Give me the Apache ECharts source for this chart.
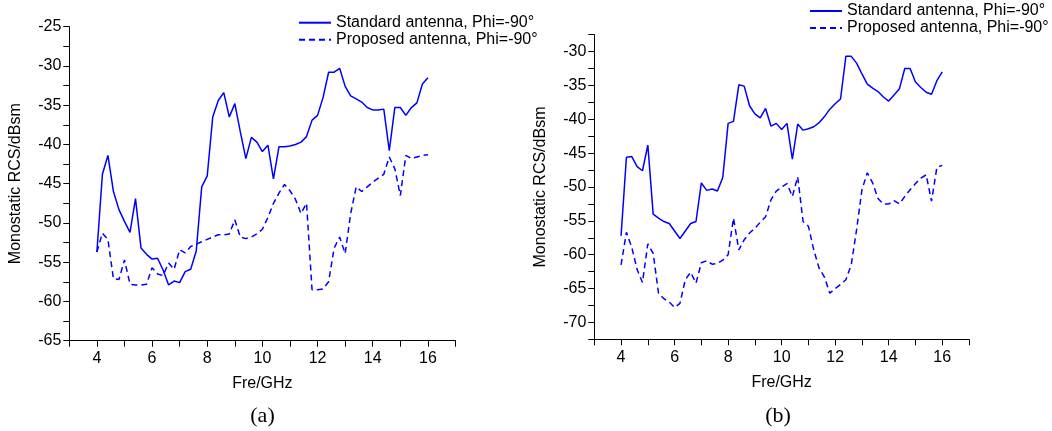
<!DOCTYPE html>
<html>
<head>
<meta charset="utf-8">
<script src="https://cdn.jsdelivr.net/npm/echarts@6/dist/echarts.min.js"></script>
<style>
  html, body { margin: 0; padding: 0; background: #ffffff; }
  #chart { width: 1052px; height: 431px; }
</style>
</head>
<body>
<div id="chart"></div>
<script>
// Sweep frequencies (GHz)
const freq = [
  4.0, 4.2, 4.4, 4.6, 4.8, 5.0, 5.2, 5.4, 5.6, 5.8,
  6.0, 6.2, 6.4, 6.6, 6.8, 7.0, 7.2, 7.4, 7.6, 7.8,
  8.0, 8.2, 8.4, 8.6, 8.8, 9.0, 9.2, 9.4, 9.6, 9.8,
  10.0, 10.2, 10.4, 10.6, 10.8, 11.0, 11.2, 11.4, 11.6, 11.8,
  12.0, 12.2, 12.4, 12.6, 12.8, 13.0, 13.2, 13.4, 13.6, 13.8,
  14.0, 14.2, 14.4, 14.6, 14.8, 15.0, 15.2, 15.4, 15.6, 15.8,
  16.0
];

// Panel (a): monostatic RCS in dBsm
const standardA = [
  -53.7, -43.8, -41.4, -46.0, -48.3, -49.8, -51.2, -46.9, -53.2, -54.0,
  -54.6, -54.5, -56.0, -57.9, -57.4, -57.6, -56.2, -55.9, -53.6, -45.4,
  -44.0, -36.5, -34.4, -33.4, -36.5, -34.8, -38.4, -41.8, -39.1, -39.7,
  -40.9, -40.1, -44.4, -40.3, -40.3, -40.2, -40.0, -39.7, -39.0, -36.9,
  -36.3, -34.0, -30.8, -30.8, -30.3, -32.6, -33.8, -34.2, -34.6, -35.3,
  -35.6, -35.6, -35.5, -40.8, -35.3, -35.3, -36.3, -35.3, -34.7, -32.3,
  -31.5
];
const proposedA = [
  -53.7, -51.3, -52.1, -57.1, -57.2, -54.7, -57.8, -57.9, -57.9, -57.8,
  -55.7, -56.5, -56.7, -55.1, -55.9, -53.4, -53.8, -53.0, -52.7, -52.4,
  -52.1, -51.8, -51.5, -51.5, -51.4, -49.6, -51.8, -52.0, -51.8, -51.4,
  -50.8, -49.3, -47.5, -46.2, -45.1, -45.9, -47.0, -48.8, -47.5, -58.5,
  -58.5, -58.4, -57.5, -53.2, -51.8, -53.9, -48.8, -45.4, -46.0, -45.4,
  -44.8, -44.3, -43.8, -41.6, -43.1, -46.5, -41.4, -41.8, -41.6, -41.4,
  -41.3
];

// Panel (b): monostatic RCS in dBsm
const standardB = [
  -57.2, -45.6, -45.5, -47.0, -47.6, -43.8, -54.0, -54.6, -55.1, -55.4,
  -56.5, -57.6, -56.5, -55.4, -55.1, -49.4, -50.5, -50.3, -50.6, -48.6,
  -40.6, -40.3, -34.9, -35.1, -38.0, -39.2, -39.8, -38.4, -41.0, -40.6,
  -41.5, -40.6, -45.9, -40.7, -41.6, -41.4, -41.1, -40.5, -39.6, -38.5,
  -37.7, -37.0, -30.7, -30.7, -31.7, -33.3, -34.8, -35.4, -35.9, -36.7,
  -37.3, -36.4, -35.5, -32.5, -32.5, -34.5, -35.3, -36.0, -36.3, -34.3,
  -33.0
];
const proposedB = [
  -61.5, -56.7, -58.9, -62.2, -64.1, -58.4, -59.8, -65.7, -66.5, -67.0,
  -67.8, -67.2, -63.7, -62.6, -64.2, -61.2, -60.9, -61.4, -61.3, -60.8,
  -60.0, -54.6, -59.3, -57.8, -56.8, -56.1, -55.2, -54.4, -51.9, -50.6,
  -50.0, -49.5, -51.4, -48.5, -55.1, -55.8, -59.3, -62.0, -63.3, -65.7,
  -65.0, -64.4, -63.7, -61.5, -56.3, -50.4, -47.9, -49.4, -51.7, -52.5,
  -52.5, -52.0, -52.5, -51.4, -50.4, -49.5, -48.7, -48.2, -52.1, -47.1,
  -46.8
];

const seriesNames = ['Standard antenna, Phi=-90°', 'Proposed antenna, Phi=-90°'];
const panelLabels = ['(a)', '(b)'];
const xAxisName = 'Fre/GHz';
const yAxisName = 'Monostatic RCS/dBsm';

const SANS = '"Liberation Sans", Arial, Helvetica, sans-serif';
const SERIF = '"Liberation Serif", "Times New Roman", Times, serif';
const BLUE = '#0000ff';

function toPairs(values) {
  return freq.map((f, i) => [f, values[i]]);
}

function xAxisFor(gridIndex) {
  return {
    type: 'value', gridIndex: gridIndex,
    min: 3, max: 17, interval: 1,
    name: xAxisName, nameLocation: 'middle', nameGap: 35,
    nameTextStyle: { fontFamily: SANS, fontSize: 16, color: '#000' },
    axisLine: { show: true, onZero: false, lineStyle: { color: '#000', width: 1 } },
    axisTick: { show: true, inside: false, length: 6, lineStyle: { color: '#000', width: 1 } },
    axisLabel: {
      margin: 10, fontFamily: SANS, fontSize: 16, color: '#000',
      formatter: v => (Math.round(v) % 2 === 0 ? String(Math.round(v)) : '')
    },
    splitLine: { show: false }
  };
}

function yAxisFor(gridIndex, min, max) {
  return {
    type: 'value', gridIndex: gridIndex,
    min: min, max: max, interval: 2.5,
    name: yAxisName, nameLocation: 'middle', nameGap: 46,
    nameTextStyle: { fontFamily: SANS, fontSize: 16, color: '#000' },
    axisLine: { show: true, onZero: false, lineStyle: { color: '#000', width: 1 } },
    axisTick: { show: true, inside: false, length: 6, lineStyle: { color: '#000', width: 1 } },
    axisLabel: {
      margin: 8, fontFamily: SANS, fontSize: 16, color: '#000',
      formatter: v => (Math.abs(v % 5) < 1e-6 ? String(v) : '')
    },
    splitLine: { show: false }
  };
}

function lineSeries(name, values, axisIndex, dashed) {
  return {
    name: name, type: 'line',
    xAxisIndex: axisIndex, yAxisIndex: axisIndex,
    data: toPairs(values),
    symbol: 'none', smooth: false,
    lineStyle: { color: BLUE, width: 1.5, type: dashed ? [6, 4] : 'solid' },
    itemStyle: { color: BLUE },
    emphasis: { disabled: true },
    z: dashed ? 2 : 3
  };
}

// Legend keys are plain line samples: hide the marker drawn on top of them
function legendAt(left, top) {
  return {
    data: seriesNames, orient: 'vertical',
    left: left, top: top, padding: 0,
    itemWidth: 32, itemHeight: 12, itemGap: 1,
    selectedMode: false,
    itemStyle: { color: 'rgba(0,0,0,0)', borderColor: 'rgba(0,0,0,0)', borderWidth: 0, opacity: 0 },
    lineStyle: { opacity: 1 },
    textStyle: { fontFamily: SANS, fontSize: 16, color: '#000', lineHeight: 16 }
  };
}

const chart = echarts.init(document.getElementById('chart'), null, { renderer: 'canvas' });

chart.setOption({
  animation: false,
  backgroundColor: '#ffffff',
  grid: [
    { left: 69.3, top: 26.7, width: 386.2, height: 314 },
    { left: 594.3, top: 34.7, width: 374.7, height: 304.6 }
  ],
  xAxis: [xAxisFor(0), xAxisFor(1)],
  yAxis: [yAxisFor(0, -65, -25), yAxisFor(1, -72.5, -27.5)],
  legend: [legendAt(298, 14.7), legendAt(809, 3)],
  series: [
    lineSeries(seriesNames[0], standardA, 0, false),
    lineSeries(seriesNames[1], proposedA, 0, true),
    lineSeries(seriesNames[0], standardB, 1, false),
    lineSeries(seriesNames[1], proposedB, 1, true)
  ],
  graphic: [
    { type: 'text', x: 262.5, y: 416.7, style: { text: panelLabels[0], fill: '#000', font: '22px ' + SERIF, align: 'center', verticalAlign: 'middle' } },
    { type: 'text', x: 778, y: 416.7, style: { text: panelLabels[1], fill: '#000', font: '22px ' + SERIF, align: 'center', verticalAlign: 'middle' } }
  ]
});
</script>
</body>
</html>
